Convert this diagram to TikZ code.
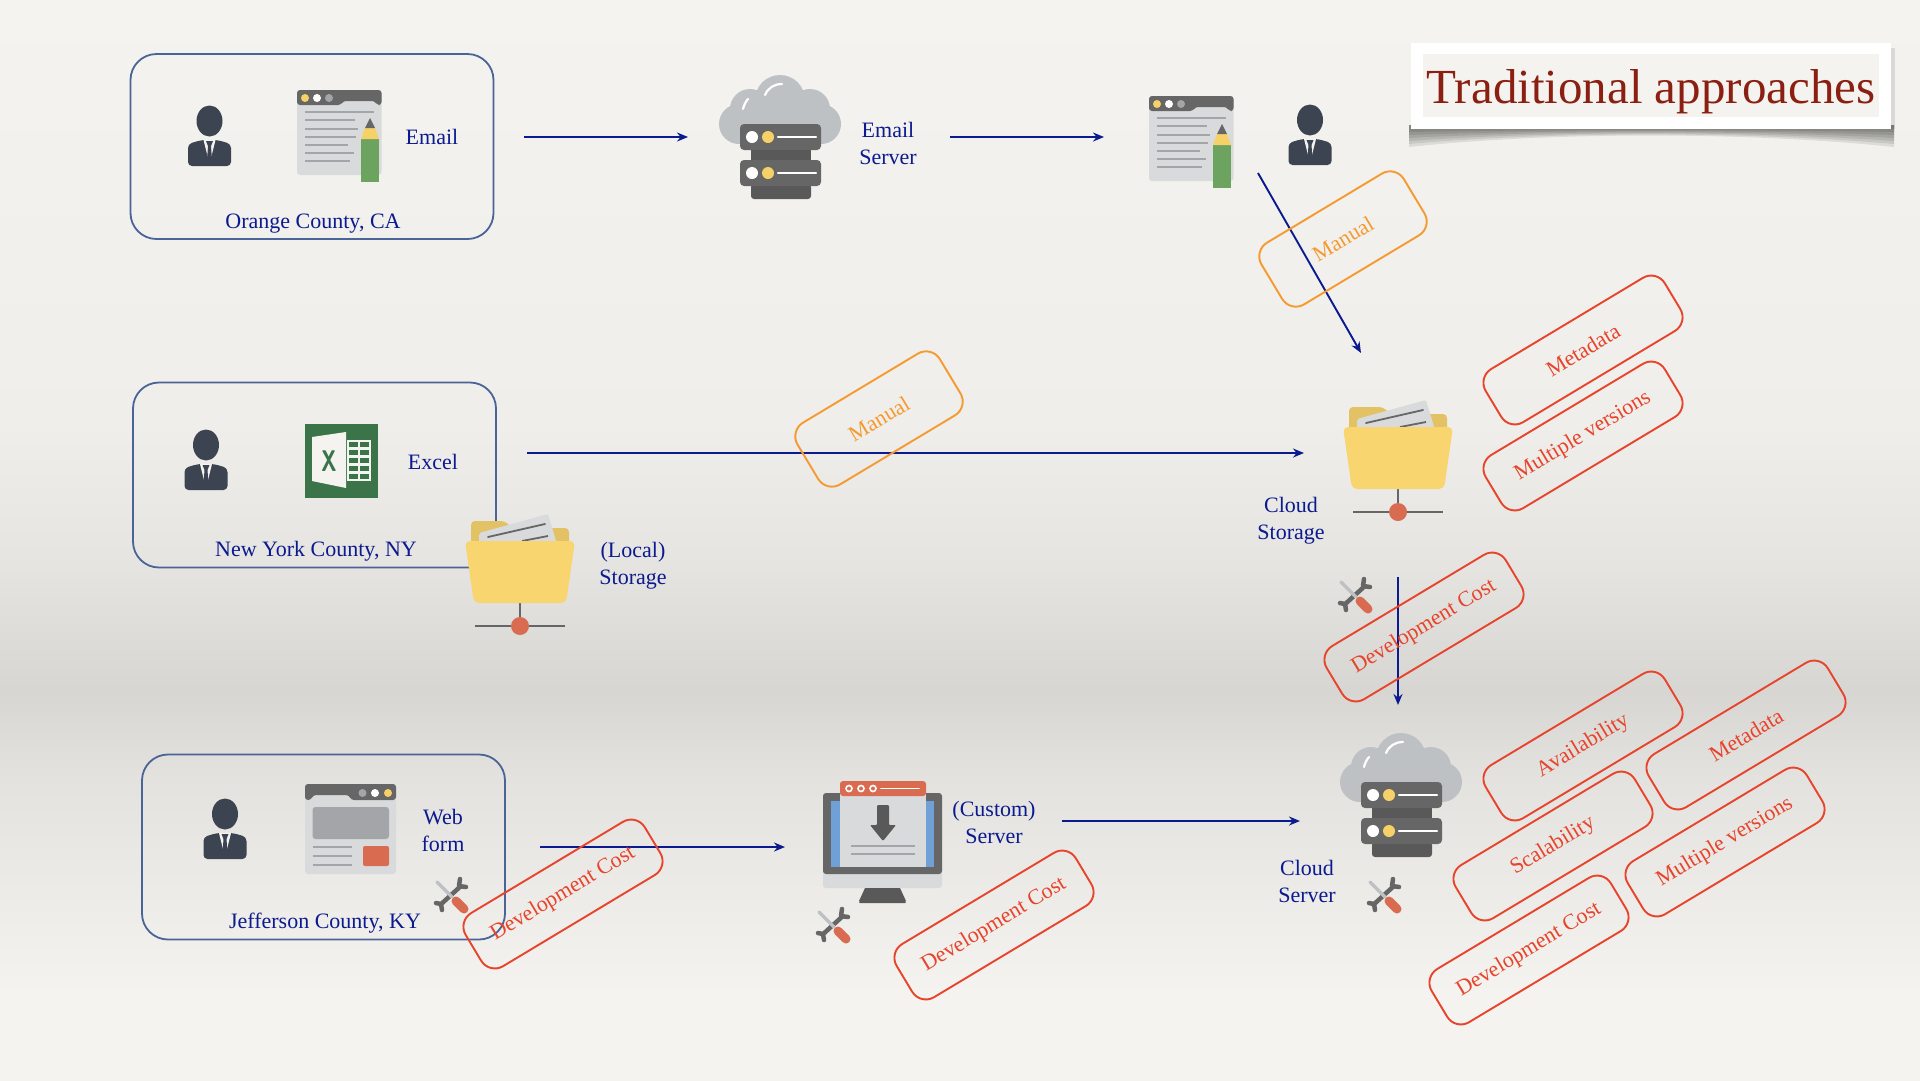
\documentclass[tikz,border=0pt]{standalone}
\usepackage{fontspec}
\setmainfont{Liberation Serif}
\usetikzlibrary{arrows.meta}

\definecolor{navy}{HTML}{0B1A8E}
\definecolor{boxblue}{HTML}{4A6497}
\definecolor{tagred}{HTML}{E8432B}
\definecolor{tagorange}{HTML}{F59A30}
\definecolor{titlered}{HTML}{8B2012}
\definecolor{suit}{HTML}{3D4451}
\definecolor{paper}{HTML}{F4F3EF}
\definecolor{cardgray}{HTML}{D9DADC}
\definecolor{dark}{HTML}{666666}
\definecolor{darker}{HTML}{595959}
\definecolor{midgray}{HTML}{A3A5A8}
\definecolor{cloudgray}{HTML}{BEC1C4}
\definecolor{dotyellow}{HTML}{F6D167}
\definecolor{foldback}{HTML}{E3C265}
\definecolor{foldfront}{HTML}{F8D56F}
\definecolor{brick}{HTML}{D96B50}
\definecolor{pencilgreen}{HTML}{6BA35F}
\definecolor{excelgreen}{HTML}{3A7448}
\definecolor{screenblue}{HTML}{6FA0D6}
\colorlet{paperlow}{paper!93!black}
\colorlet{papermid}{paper!88!black}
\colorlet{paperfall}{paper!94!black}
\colorlet{paperhigh}{paper!98!black}

\pgfdeclareverticalshading{paperfade}{100bp}{
  color(0bp)=(paper); color(29bp)=(paper); color(39bp)=(paperlow); color(43bp)=(papermid);
  color(49bp)=(paperfall); color(55.5bp)=(paperhigh); color(75bp)=(paper); color(100bp)=(paper)}

\tikzset{
  label/.style={text=navy,align=center,font=\fontsize{22}{27}\selectfont},
  region/.style={draw=boxblue,line width=1.8pt,rounded corners=26pt,minimum width=363pt,minimum height=185pt},
  flow/.style={draw=navy,line width=1.9pt,-{Stealth[length=11pt,width=9pt]}},
  tag/.style={draw=#1,text=#1,line width=1.9pt,rounded corners=16pt,rotate=31,font=\fontsize{22}{26}\selectfont},
  devtag/.style={tag=tagred,minimum width=209pt,minimum height=62pt},
  mantag/.style={tag=tagorange,minimum width=166pt,minimum height=72pt},
  person/.pic={
    \fill[suit] (0,-15) ellipse (13 and 15.5);
    \fill[suit,rounded corners=4pt] (-21.5,30) -- (-21.5,8) -- (-8,4) -- (8,4) -- (21.5,8) -- (21.5,30) -- cycle;
    \fill[paper] (-6,4) -- (6,4) -- (1,24) -- (-1,24) -- cycle;
    \fill[suit] (-3.5,5) -- (3.5,5) -- (1.5,10) -- (2.5,24) -- (0,27) -- (-2.5,24) -- (-1.5,10) -- cycle;
  },
  docicon/.pic={
    \fill[cardgray,rounded corners=3pt] (0,0) rectangle (84.5,85);
    \fill[dark,rounded corners=3pt] (0,15) -- (0,0) -- (84.5,0) -- (84.5,15) -- (80,15) -- (78,11) -- (46,11) -- (44,15) -- cycle;
    \fill[dotyellow] (8,8) circle (4);
    \fill[white] (20,8) circle (4);
    \fill[midgray] (32,8) circle (4);
    \draw[midgray,line width=1.8pt] (8,22) -- (77,22) (8,30) -- (58,30) (8,39) -- (61,39) (8,47) -- (59,47) (8,55) -- (51,55) (8,63) -- (57,63) (8,71) -- (53,71);
    \fill[pencilgreen] (64,49) rectangle (82,92);
    \fill[dotyellow] (64,49) -- (68,38) -- (78,38) -- (82,49) -- cycle;
    \fill[dark] (68,38) -- (73,28) -- (78,38) -- cycle;
  },
  cloudserver/.pic={
    \fill[cloudgray] (-41,-13) circle (20) (-30,-28) circle (20) (0,-37) circle (25) (30,-28) circle (20) (41,-13) circle (20);
    \fill[cloudgray] (-41,-28) rectangle (41,7);
    \draw[white,line width=2.2pt,line cap=round] (-15,-42) .. controls (-12,-49) and (-6,-53) .. (2,-53);
    \draw[white,line width=2.2pt,line cap=round] (-37,-28) .. controls (-36,-32) and (-34,-36) .. (-32,-38);
    \fill[darker] (-29,12) rectangle (31,24);
    \fill[darker,rounded corners=3pt] (-29,47) rectangle (31,62);
    \fill[dark,rounded corners=4pt] (-40,-13) rectangle (41,13);
    \fill[dark,rounded corners=4pt] (-40,23) rectangle (41,49);
    \fill[white] (-28,0) circle (6) (-28,36) circle (6);
    \fill[dotyellow] (-12,0) circle (6) (-12,36) circle (6);
    \draw[white,line width=2.4pt,line cap=round] (-2,0) -- (36,0);
    \draw[white,line width=2.4pt,line cap=round] (-2,36) -- (36,36);
  },
  folder/.pic={
    \fill[foldback,rounded corners=4pt] (-49,5) -- (-49,-20) -- (-15,-20) -- (-8,-13) -- (49,-13) -- (49,5) -- cycle;
    \fill[cardgray,rounded corners=2pt] (-41,3) -- (-41,-8) -- (28,-27) -- (37,3) -- cycle;
    \draw[dark,line width=1.8pt,line cap=round] (-32,-4) -- (25,-17);
    \draw[dark,line width=1.8pt] (2,0) -- (28,-5);
    \draw[dark,line width=2pt] (0,60) -- (0,85);
    \draw[dark,line width=2pt] (-45,85) -- (45,85);
    \fill[brick] (0,85) circle (9);
    \fill[foldfront,rounded corners=5pt] (-55,0) -- (55,0) -- (46,62) -- (-46,62) -- cycle;
  },
  tools/.pic={
    \draw[dark,line width=4.5pt] (-12,11) -- (11,-10);
    \draw[dark,line width=4.5pt,line cap=round,line join=round] (9,-16) -- (8,-9) -- (15,-8);
    \draw[dark,line width=4.5pt,line cap=round,line join=round] (-15,8) -- (-10,9) -- (-9,15);
    \draw[cloudgray,line width=3.5pt,line cap=round] (-14,-13) -- (1,2);
    \draw[brick,line width=9pt,line cap=round] (5,6) -- (13,14);
  },
  excelicon/.pic={
    \fill[excelgreen] (0,0) rectangle (73,74);
    \fill[paper] (7,13) -- (41,8) -- (41,64) -- (7,57) -- cycle;
    \node[text=excelgreen,font=\fontsize{26}{26}\sffamily\bfseries\selectfont] (excelx) at (24,37) {\scalebox{.8}[1.15]{X}};
    \fill[paper] (42,16) rectangle (65.5,57);
    \foreach \r in {0,1,2,3,4} {
      \fill[excelgreen] (43.5,17.5+8*\r) rectangle (52.5,22.5+8*\r);
      \fill[excelgreen] (54.5,17.5+8*\r) rectangle (64,22.5+8*\r);
    }
  },
  webicon/.pic={
    \fill[cardgray,rounded corners=3pt] (0,0) rectangle (91,90);
    \fill[dark,rounded corners=3pt] (0,16) -- (0,0) -- (91,0) -- (91,16) -- (46,16) -- (44,11) -- (8,11) -- (6,16) -- cycle;
    \fill[midgray] (57.5,9) circle (4);
    \fill[white] (70,9) circle (4);
    \fill[dotyellow] (83,9) circle (4);
    \fill[midgray,rounded corners=3pt] (7.5,23) rectangle (84,55);
    \draw[midgray,line width=1.8pt] (7.5,63) -- (47,63) (7.5,72) -- (47,72) (7.5,81) -- (47,81);
    \fill[brick,rounded corners=2pt] (58,62) rectangle (84,82);
  },
  monitor/.pic={
    \fill[cardgray,rounded corners=3pt] (0,70) rectangle (119,95);
    \fill[dark,rounded corners=3pt] (0,0) rectangle (119,81);
    \fill[screenblue] (8,8) rectangle (111,74);
    \fill[darker] (42,95) -- (77,95) -- (83,108) -- (36,108) -- cycle;
    \fill[darker,rounded corners=1pt] (36,108) rectangle (83,110);
    \fill[cardgray] (17,0) rectangle (103,74);
    \fill[brick,rounded corners=3pt] (17,-12) rectangle (103,3);
    \draw[white,line width=1.6pt] (26,-4.5) circle (3) (38,-4.5) circle (3) (50,-4.5) circle (3);
    \draw[white,line width=1.8pt,line cap=round] (58,-4.5) -- (96,-4.5);
    \fill[darker,rounded corners=1pt] (54,12) -- (66,12) -- (66,32) -- (73,32) -- (60,48) -- (47,32) -- (54,32) -- cycle;
    \draw[midgray,line width=1.8pt] (28,53) -- (92,53) (28,61) -- (92,61);
  },
}

\begin{document}
\begin{tikzpicture}[x=1pt,y=-1pt]
\useasboundingbox (0,0) rectangle (1920,1080);

\shade[shading=paperfade] (0,0) rectangle (1920,1080);

\foreach \d in {18,15,12,9,6,3} {
  \fill[black,opacity=.09] (1409,125) -- (1409,129+\d) .. controls (1550,129+.15*\d) and (1750,129+.15*\d) .. (1894,129+\d) -- (1894,125) -- cycle;
}
\fill[black,opacity=.1] (1891,48) rectangle (1895,129);
\fill[white] (1411,43) rectangle (1891,129);
\fill[paper] (1423,54) rectangle (1879,117);
\node[text=titlered,font=\fontsize{49}{55}\selectfont,inner sep=0pt] (title) at (1651,92) {Traditional approaches};

\node[region] (orange) at (312,146.5) {};
\node[region] (newyork) at (314.5,475) {};
\node[region] (jefferson) at (323.5,847) {};

\pic (persona) at (209.5,136) {person};
\pic (doca) at (297,90) {docicon};
\node[label] (email) at (432,137) {Email};
\node[label] (orangename) at (313,224) {Orange County, CA};

\pic (emailserver) at (780,137) {cloudserver};
\node[label] (emailservername) at (888,143) {Email\\Server};

\pic (docb) at (1149,96) {docicon};
\pic (personb) at (1310,135) {person};

\pic (personc) at (206,460) {person};
\pic (excel) at (305,424) {excelicon};
\node[label] (excelname) at (433,462) {Excel};
\node[label] (newyorkname) at (316,551) {New York County, NY};

\pic (localstorage) at (520,541) {folder};
\node[label] (localname) at (633,566) {(Local)\\Storage};

\pic (cloudstorage) at (1398,427) {folder};
\node[label] (cloudstoragename) at (1291,521) {Cloud\\Storage};

\pic (persond) at (225,829) {person};
\pic (web) at (305,784) {webicon};
\node[label] (webname) at (443,830) {Web\\form};
\node[label] (jeffersonname) at (325,923) {Jefferson County, KY};

\pic (custom) at (823,793) {monitor};
\node[label] (customname) at (994,822) {(Custom)\\Server};

\pic (cloudserver) at (1401,795) {cloudserver};
\node[label] (cloudservername) at (1307,881) {Cloud\\Server};

\pic (toolsa) at (1355,595) {tools};
\pic (toolsb) at (451,895) {tools};
\pic (toolsc) at (833,925) {tools};
\pic (toolsd) at (1384,895) {tools};

\coordinate (emailout) at (524,137);
\coordinate (serverin) at (688,137);
\coordinate (serverout) at (950,137);
\coordinate (docin) at (1104,137);
\coordinate (docout) at (1258,173);
\coordinate (storagein) at (1361,353);
\coordinate (excelout) at (527,453);
\coordinate (storageside) at (1304,453);
\coordinate (storageout) at (1398,577);
\coordinate (cloudin) at (1398,705);
\coordinate (webout) at (540,847);
\coordinate (customin) at (785,847);
\coordinate (customout) at (1062,821);
\coordinate (cloudside) at (1300,821);

\draw[flow] (emailout) -- (serverin);
\draw[flow] (serverout) -- (docin);
\draw[flow] (docout) -- (storagein);
\draw[flow] (excelout) -- (storageside);
\draw[flow] (storageout) -- (cloudin);
\draw[flow] (webout) -- (customin);
\draw[flow] (customout) -- (cloudside);

\node[mantag] (manuala) at (1343,239) {Manual};
\node[mantag] (manualb) at (879,419) {Manual};
\node[devtag] (metaa) at (1583,350) {Metadata};
\node[devtag] (multia) at (1583,436) {Multiple versions};
\node[devtag] (costa) at (1424,627) {Development Cost};
\node[devtag] (avail) at (1583,746) {Availability};
\node[devtag] (metab) at (1746,735) {Metadata};
\node[devtag] (scale) at (1553,846) {Scalability};
\node[devtag] (multib) at (1725,842) {Multiple versions};
\node[devtag] (costb) at (1529,950) {Development Cost};
\node[devtag] (costc) at (563,894) {Development Cost};
\node[devtag] (costd) at (994,925) {Development Cost};
\end{tikzpicture}
\end{document}
